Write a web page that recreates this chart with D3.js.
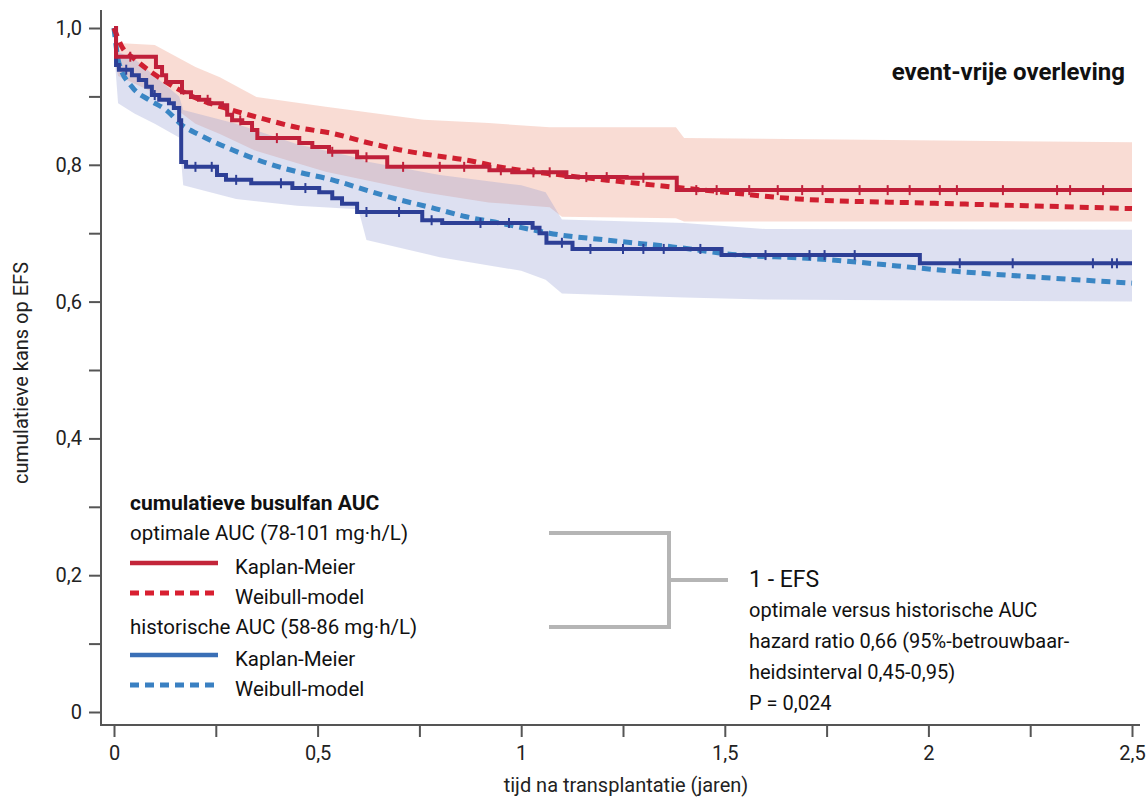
<!DOCTYPE html>
<html>
<head>
<meta charset="utf-8">
<script src="https://cdn.jsdelivr.net/npm/d3@7"></script>
<style>
  body { margin: 0; background: #fff; }
  svg { display: block; font-family: Roboto, "DejaVu Sans", sans-serif; }
</style>
</head>
<body>
<div id="chart"></div>
<script>
// --- data (t in years, S = cumulative probability EFS) ---
var redKmT = [0, 0.005, 0.103, 0.118, 0.128, 0.167, 0.189, 0.209, 0.234, 0.265, 0.278, 0.29, 0.315, 0.339, 0.352, 0.455, 0.487, 0.528, 0.597, 0.671, 0.922, 0.978, 1.111, 1.259, 1.382, 2.5];
var redKmS = [1.0, 0.958, 0.943, 0.931, 0.921, 0.906, 0.899, 0.895, 0.890, 0.887, 0.873, 0.865, 0.861, 0.851, 0.839, 0.832, 0.826, 0.819, 0.811, 0.797, 0.792, 0.789, 0.782, 0.781, 0.763, 0.763];

var blueKmT = [0, 0.005, 0.012, 0.044, 0.061, 0.079, 0.093, 0.111, 0.135, 0.147, 0.160, 0.165, 0.177, 0.253, 0.275, 0.337, 0.438, 0.504, 0.536, 0.560, 0.597, 0.757, 0.806, 1.028, 1.045, 1.062, 1.126, 1.492, 1.979, 2.5];
var blueKmS = [1.0, 0.946, 0.939, 0.931, 0.924, 0.914, 0.902, 0.895, 0.890, 0.883, 0.865, 0.804, 0.797, 0.785, 0.778, 0.773, 0.766, 0.760, 0.751, 0.743, 0.731, 0.719, 0.715, 0.708, 0.700, 0.686, 0.677, 0.668, 0.656, 0.656];

var redWbT = [0, 0.02, 0.05, 0.1, 0.2, 0.29, 0.374, 0.455, 0.536, 0.619, 0.70, 0.782, 0.865, 0.946, 1.1, 1.3, 1.5, 1.68, 2.0, 2.25, 2.5];
var redWbS = [1.0, 0.972, 0.955, 0.932, 0.898, 0.880, 0.866, 0.854, 0.846, 0.833, 0.822, 0.814, 0.807, 0.797, 0.785, 0.772, 0.760, 0.750, 0.744, 0.740, 0.736];

var blueWbT = [0, 0.012, 0.044, 0.086, 0.128, 0.167, 0.209, 0.29, 0.373, 0.455, 0.536, 0.619, 0.70, 0.782, 0.865, 0.946, 1.027, 1.069, 1.209, 1.372, 1.536, 1.684, 2.094, 2.5];
var blueWbS = [1.0, 0.949, 0.914, 0.895, 0.880, 0.858, 0.844, 0.822, 0.803, 0.789, 0.778, 0.763, 0.749, 0.737, 0.724, 0.715, 0.705, 0.700, 0.690, 0.680, 0.668, 0.664, 0.643, 0.627];

// 95% bands
var redBandT = [0, 0.01, 0.1, 0.2, 0.26, 0.35, 0.52, 0.76, 0.92, 1.07, 1.1, 1.38, 1.4, 2.5];
var redUpper = [0.99, 0.978, 0.975, 0.943, 0.928, 0.899, 0.885, 0.866, 0.861, 0.855, 0.855, 0.855, 0.839, 0.833];
var redLower = [0.96, 0.93, 0.905, 0.86, 0.845, 0.82, 0.79, 0.76, 0.745, 0.738, 0.724, 0.722, 0.717, 0.717];

var blueBandT = [0, 0.01, 0.05, 0.1, 0.16, 0.17, 0.3, 0.45, 0.6, 0.62, 0.8, 1.0, 1.06, 1.1, 1.4, 1.6, 2.5];
var blueUpper = [0.99, 0.965, 0.955, 0.93, 0.90, 0.88, 0.86, 0.83, 0.81, 0.805, 0.785, 0.77, 0.76, 0.72, 0.715, 0.706, 0.705];
var blueLower = [0.97, 0.89, 0.875, 0.86, 0.84, 0.77, 0.75, 0.74, 0.735, 0.69, 0.665, 0.645, 0.632, 0.612, 0.606, 0.603, 0.60];

// censored observations (times)
var redCensor = [0.04, 0.23, 0.31, 0.40, 0.536, 0.62, 0.71, 0.80, 0.86, 0.95, 1.03, 1.07, 1.16, 1.21, 1.30, 1.43, 1.48, 1.56, 1.63, 1.69, 1.74, 1.831, 1.90, 1.954, 2.028, 2.07, 2.183, 2.316, 2.348, 2.429];
var blueCensor = [0.03, 0.10, 0.20, 0.24, 0.30, 0.41, 0.47, 0.62, 0.70, 0.78, 0.90, 0.97, 1.10, 1.17, 1.25, 1.30, 1.35, 1.44, 1.60, 1.708, 1.745, 1.819, 2.077, 2.207, 2.404, 2.451, 2.463];

var xTicks = [0, 0.25, 0.5, 0.75, 1, 1.25, 1.5, 1.75, 2, 2.25, 2.5];
var yTicks = [0, 0.1, 0.2, 0.3, 0.4, 0.5, 0.6, 0.7, 0.8, 0.9, 1.0];

var legendItems = [
  { label: "cumulatieve busulfan AUC", kind: "title" },
  { label: "optimale AUC (78-101 mg\u00b7h/L)", kind: "group" },
  { label: "Kaplan-Meier", kind: "solid", color: "#c3253a" },
  { label: "Weibull-model", kind: "dash", color: "#d81f30" },
  { label: "historische AUC (58-86 mg\u00b7h/L)", kind: "group" },
  { label: "Kaplan-Meier", kind: "solid", color: "#3a6fb6" },
  { label: "Weibull-model", kind: "dash", color: "#3a80c2" }
];
var statLines = ["optimale versus historische AUC", "hazard ratio 0,66 (95%-betrouwbaar-", "heidsinterval 0,45-0,95)", "P = 0,024"];

var fmt = function (d) { return d === 0 ? "0" : String(d).replace(".", ","); };
function zip(t, s) { return t.map(function (d, i) { return [d, s[i]]; }); }
function band(t, lo, hi) { return t.map(function (d, i) { return { t: d, lo: lo[i], hi: hi[i] }; }); }
function stepAt(t, s, v) {
  var i = d3.bisectRight(t, v) - 1;
  return s[Math.max(0, i)];
}

var width = 1148, height = 799;
var svg = d3.select("#chart").append("svg").attr("width", width).attr("height", height);

var x = d3.scaleLinear().domain([0, 2.5]).range([114, 1132]);
var y = d3.scaleLinear().domain([0, 1]).range([712, 28]);

// bands
var area = d3.area().x(d => x(d.t)).y0(d => y(d.lo)).y1(d => y(d.hi));
svg.append("path").datum(band(redBandT, redLower, redUpper))
  .attr("d", area).attr("fill", "#ee9f88").attr("fill-opacity", 0.36);
svg.append("path").datum(band(blueBandT, blueLower, blueUpper))
  .attr("d", area).attr("fill", "#909ad2").attr("fill-opacity", 0.31);

// curves
var stepLine = d3.line().x(d => x(d[0])).y(d => y(d[1])).curve(d3.curveStepAfter);
var smoothLine = d3.line().x(d => x(d[0])).y(d => y(d[1])).curve(d3.curveMonotoneX);

svg.append("path").datum(zip(blueWbT, blueWbS)).attr("d", smoothLine)
  .attr("fill", "none").attr("stroke", "#3a86c4").attr("stroke-width", 5)
  .attr("stroke-dasharray", "9,6").attr("stroke-linecap", "butt");
svg.append("path").datum(zip(redWbT, redWbS)).attr("d", smoothLine)
  .attr("fill", "none").attr("stroke", "#d01f30").attr("stroke-width", 5)
  .attr("stroke-dasharray", "9,6").attr("stroke-linecap", "butt");

svg.append("path").datum(zip(blueKmT, blueKmS)).attr("d", stepLine)
  .attr("fill", "none").attr("stroke", "#2d3f96").attr("stroke-width", 4);
svg.append("path").datum(zip(redKmT, redKmS)).attr("d", stepLine)
  .attr("fill", "none").attr("stroke", "#c0203a").attr("stroke-width", 4);

// censor marks
svg.selectAll("line.cb").data(blueCensor).enter().append("line").attr("class", "cb")
  .attr("x1", d => x(d)).attr("x2", d => x(d))
  .attr("y1", d => y(stepAt(blueKmT, blueKmS, d)) - 5)
  .attr("y2", d => y(stepAt(blueKmT, blueKmS, d)) + 5)
  .attr("stroke", "#2d3f96").attr("stroke-width", 2);
svg.selectAll("line.cr").data(redCensor).enter().append("line").attr("class", "cr")
  .attr("x1", d => x(d)).attr("x2", d => x(d))
  .attr("y1", d => y(stepAt(redKmT, redKmS, d)) - 5)
  .attr("y2", d => y(stepAt(redKmT, redKmS, d)) + 5)
  .attr("stroke", "#c0203a").attr("stroke-width", 2);

// axes
var axisColor = "#555";
var yAxis = svg.append("g").attr("transform", "translate(101,0)")
  .call(d3.axisLeft(y).tickValues(yTicks).tickSize(12).tickPadding(7)
    .tickFormat(d => (Math.round(d * 10) % 2 === 0 ? (d === 0 ? "0" : d3.format(".1f")(d).replace(".", ",")) : "")));
var xAxis = svg.append("g").attr("transform", "translate(0,725)")
  .call(d3.axisBottom(x).tickValues(xTicks).tickSize(12).tickPadding(9)
    .tickFormat(d => (d * 2 === Math.round(d * 2) ? fmt(d) : "")));
[yAxis, xAxis].forEach(function (g) {
  g.select(".domain").remove();
  g.selectAll(".tick line").attr("stroke", axisColor).attr("stroke-width", 2);
  g.selectAll(".tick text").attr("fill", "#222").style("font-size", "20px").style("font-family", "Roboto, sans-serif");
});
svg.append("line").attr("x1", 101).attr("x2", 101).attr("y1", 10).attr("y2", 726)
  .attr("stroke", axisColor).attr("stroke-width", 2);
svg.append("line").attr("x1", 100).attr("x2", 1140).attr("y1", 725).attr("y2", 725)
  .attr("stroke", axisColor).attr("stroke-width", 2);

// axis titles
svg.append("text").attr("transform", "translate(28,373) rotate(-90)")
  .attr("text-anchor", "middle").style("font-size", "20px").attr("fill", "#222")
  .text("cumulatieve kans op EFS");
svg.append("text").attr("x", 626).attr("y", 792)
  .attr("text-anchor", "middle").style("font-size", "20px").attr("fill", "#222")
  .text("tijd na transplantatie (jaren)");

// title top right
svg.append("text").attr("x", 1125).attr("y", 80).attr("text-anchor", "end")
  .style("font-size", "24px").style("font-weight", "bold").attr("fill", "#111")
  .text("event-vrije overleving");

// legend
var lg = svg.append("g").attr("transform", "translate(130,0)");
var rowY = [503, 533, 563, 593, 627, 655, 685];
legendItems.forEach(function (d, i) {
  var cy = rowY[i];
  if (d.kind === "title" || d.kind === "group") {
    lg.append("text").attr("x", 0).attr("y", cy + 7)
      .style("font-size", d.kind === "title" ? "21px" : "20.5px")
      .style("font-weight", d.kind === "title" ? "bold" : "normal")
      .attr("fill", "#111").text(d.label);
  } else {
    lg.append("line").attr("x1", 0).attr("x2", 88).attr("y1", cy).attr("y2", cy)
      .attr("stroke", d.color).attr("stroke-width", d.kind === "solid" ? 4.5 : 5)
      .attr("stroke-dasharray", d.kind === "dash" ? "9,6" : null);
    lg.append("text").attr("x", 105).attr("y", cy + 11)
      .style("font-size", "20.5px").attr("fill", "#111").text(d.label);
  }
});

// bracket + statistics
var gray = "#b5b5b5";
svg.append("path")
  .attr("d", "M549,533 H669 V627 H549 M669,580 H728")
  .attr("fill", "none").attr("stroke", gray).attr("stroke-width", 4);
svg.append("text").attr("x", 749).attr("y", 587)
  .style("font-size", "23px").attr("fill", "#111").text("1 - EFS");
svg.selectAll("text.stat").data(statLines).enter().append("text").attr("class", "stat")
  .attr("x", 749).attr("y", (d, i) => 617 + i * 31)
  .style("font-size", "20px").attr("fill", "#111").text(d => d);
</script>
</body>
</html>
